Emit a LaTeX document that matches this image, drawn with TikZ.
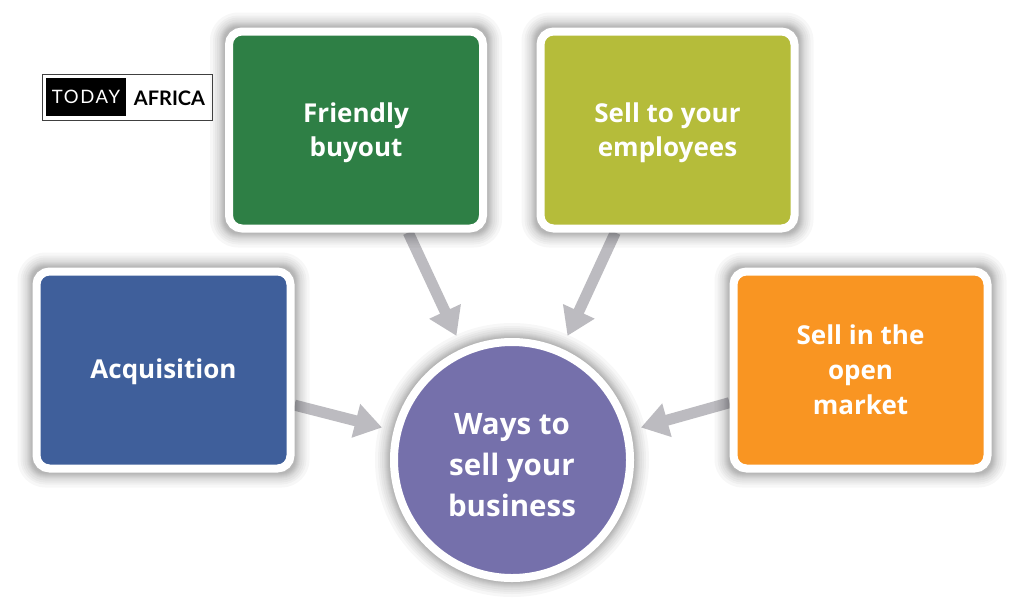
\documentclass[tikz,border=0pt]{standalone}
\usepackage{fontspec}
\setmainfont{Open Sans}
\newfontfamily\logofont{Lato}
\newfontfamily\todayfont[LetterSpace=9]{Lato}
\usetikzlibrary{arrows.meta,backgrounds}

\definecolor{boxblue}{HTML}{3F5F9B}
\definecolor{boxgreen}{HTML}{2E7F45}
\definecolor{boxyellow}{HTML}{B5BC3A}
\definecolor{boxorange}{HTML}{F99522}
\definecolor{boxpurple}{HTML}{7570AB}
\definecolor{arrowgrey}{HTML}{BCBBC0}

\tikzset{
  card/.style={draw=white,line width=8pt,rounded corners=13pt,minimum width=254pt,minimum height=197pt,
    align=center,text=white,font=\fontsize{26}{35}\selectfont\bfseries},
  hub/.style={circle,draw=white,line width=8pt,minimum size=236pt},
  hubtext/.style={align=center,text=white,font=\fontsize{29.5}{41}\selectfont\bfseries},
  link/.style={arrowgrey,line width=11pt,-{Triangle[length=27pt,width=33pt]}},
}

% soft edge round the boxes
\newcommand{\softbox}[1]{
  \foreach \s in {1,2,3,4,5,6,8,10,12,15}
    \fill[black,opacity=.03,rounded corners=13pt+\s pt] ([shift={(-\s pt,-\s pt)}]#1.south west) rectangle ([shift={(\s pt,\s pt)}]#1.north east);
}

\begin{document}
\begin{tikzpicture}[x=1pt,y=-1pt]
\useasboundingbox (0,0) rectangle (1024,614);

\node[card,fill=boxgreen] (buyout) at (356,130) {\rule{0pt}{25pt}Friendly\\[-1pt]buyout};
\node[card,fill=boxyellow] (employees) at (667.5,130) {\rule{0pt}{25pt}Sell to your\\[-1pt]employees};
\node[card,fill=boxblue] (acquisition) at (163.5,370) {\rule{0pt}{24pt}Acquisition};
\node[card,fill=boxorange] (market) at (860.5,370) {Sell in the\\open\\market};
\node[hub,fill=boxpurple] (ways) at (512,460) {};
\node[hubtext] (waystext) at (512,465) {Ways to\\sell your\\business};

\begin{pgfonlayer}{background}
\fill[white] (0,0) rectangle (1024,614);
\draw[link,shorten >=14pt] (buyout.-63) -- (ways.114);
\draw[link,shorten >=14pt] (employees.-117) -- (ways.66);
\draw[link,shorten >=12pt] (acquisition.-15) -- (ways.166);
\draw[link,shorten >=11pt] (market.-166) -- (ways.14);
\softbox{buyout}
\softbox{employees}
\softbox{acquisition}
\softbox{market}
\foreach \s in {1,2,3,4,5,6,8,10,12,15}
  \fill[black,opacity=.03] (ways.center) circle (122+\s);
\end{pgfonlayer}

% logo
\node[draw=black!75,line width=1pt,minimum width=170pt,minimum height=46pt] (logo) at (127,97) {};
\node[fill=black,text=white,minimum width=80pt,minimum height=38pt,inner sep=0pt,font=\todayfont\fontsize{18.5}{20}\selectfont] (today) at (86,97) {TODAY};
\node[text=black,inner sep=0pt,font=\logofont\fontsize{20}{20}\selectfont\bfseries] (africa) at (169.5,98) {AFRICA};
\end{tikzpicture}
\end{document}
